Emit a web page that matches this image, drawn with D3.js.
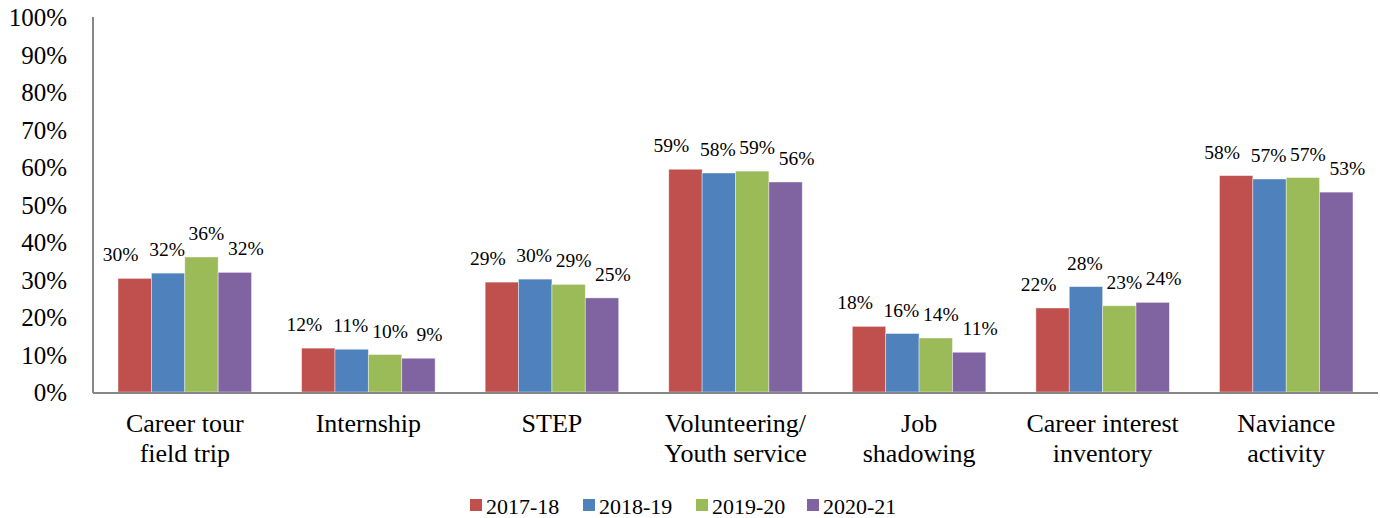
<!DOCTYPE html>
<html>
<head>
<meta charset="utf-8">
<script src="https://cdn.jsdelivr.net/npm/d3@7"></script>
</head>
<body style="margin:0">
<script>
// data
var categories = [["Career tour", "field trip"], ["Internship"], ["STEP"], ["Volunteering/", "Youth service"],
                  ["Job", "shadowing"], ["Career interest", "inventory"], ["Naviance", "activity"]];
var seriesNames = ["2017-18", "2018-19", "2019-20", "2020-21"];
var seriesColors = ["#C0504D", "#4F81BD", "#9BBB59", "#8064A2"];
var v2017 = [30.3, 11.7, 29.3, 59.4, 17.5, 22.4, 57.7];
var v2018 = [31.7, 11.4, 30.1, 58.4, 15.6, 28.1, 56.8];
var v2019 = [36.0, 10.0, 28.7, 58.9, 14.4, 23.0, 57.2];
var v2020 = [31.9, 9.0, 25.1, 56.0, 10.6, 23.9, 53.3];
var yTicks = [0, 10, 20, 30, 40, 50, 60, 70, 80, 90, 100];

var allValues = [v2017, v2018, v2019, v2020];
var FONT = "'Liberation Serif'";

var W = 1380, H = 518;
var margin = {top: 17, left: 93, right: 2, bottom: 126};
var width = W - margin.left - margin.right,
    height = H - margin.top - margin.bottom;

var root = d3.select("body").append("svg")
    .attr("width", W).attr("height", H);
var svg = root.append("g")
    .attr("transform", "translate(" + margin.left + "," + margin.top + ")");

var catIdx = d3.range(categories.length);
var x0 = d3.scaleBand().domain(catIdx).range([0, width]).padding(0);
var x1 = d3.scaleBand().domain(d3.range(seriesNames.length))
    .range([0, x0.bandwidth()]).paddingInner(0).paddingOuter(0.75);
var y = d3.scaleLinear().domain([0, 100]).range([height, 0]);

// y axis labels
var yAxis = svg.append("g")
    .call(d3.axisLeft(y).tickValues(yTicks).tickSize(0).tickPadding(26)
          .tickFormat(function(d) { return d + "%"; }));
yAxis.attr("font-family", null).attr("font-size", null);
yAxis.select(".domain").remove();
yAxis.selectAll("text")
    .style("font-family", FONT).style("font-size", "25px").style("fill", "#000")
    .attr("dy", "0.34em");

// bars
var groups = svg.selectAll(".grp")
    .data(catIdx)
    .enter().append("g")
    .attr("class", "grp")
    .attr("transform", function(d) { return "translate(" + x0(d) + ",0)"; });

// labels are nudged apart like in the original so they don't collide
var labelShift = [-14, -1, 5, 11];

seriesNames.forEach(function(s, si) {
    groups.append("rect")
        .attr("x", x1(si))
        .attr("y", function(c) { return y(allValues[si][c]); })
        .attr("width", x1.bandwidth())
        .attr("height", function(c) { return height - y(allValues[si][c]); })
        .style("fill", seriesColors[si])
        .style("stroke", "#fff")
        .style("stroke-opacity", 0.5)
        .style("stroke-width", 0.8);

    groups.append("text")
        .attr("x", x1(si) + x1.bandwidth() / 2 + labelShift[si])
        .attr("y", function(c) { return y(allValues[si][c]) - 17; })
        .attr("text-anchor", "middle")
        .style("font-family", FONT)
        .style("font-size", "19.5px")
        .text(function(c) { return Math.round(allValues[si][c]) + "%"; });
});

// axis lines
svg.append("line")
    .attr("x1", 0).attr("x2", 0).attr("y1", 0).attr("y2", height + 1)
    .style("stroke", "#878787").style("stroke-width", 2);
svg.append("line")
    .attr("x1", 0).attr("x2", width).attr("y1", height + 1).attr("y2", height + 1)
    .style("stroke", "#878787").style("stroke-width", 2);

// category labels
var catText = svg.selectAll(".cat")
    .data(catIdx)
    .enter().append("text")
    .attr("class", "cat")
    .attr("text-anchor", "middle")
    .attr("transform", function(d) { return "translate(" + (x0(d) + x0.bandwidth() / 2) + "," + (height + 40) + ")"; })
    .style("font-family", FONT)
    .style("font-size", "26px");
catText.each(function(d) {
    var t = d3.select(this);
    categories[d].forEach(function(line, li) {
        t.append("tspan").attr("x", 0).attr("y", li * 30).text(line);
    });
});

// legend
var legendX = [470 - margin.left, 583 - margin.left, 696 - margin.left, 807 - margin.left];
var legend = svg.selectAll(".leg")
    .data(seriesNames)
    .enter().append("g")
    .attr("class", "leg")
    .attr("transform", function(d, i) { return "translate(" + legendX[i] + "," + (499 - margin.top) + ")"; });
legend.append("rect")
    .attr("width", 12).attr("height", 12)
    .style("fill", function(d, i) { return seriesColors[i]; });
legend.append("text")
    .attr("x", 16).attr("y", 15)
    .style("font-family", FONT)
    .style("font-size", "22px")
    .text(function(d) { return d; });
</script>
</body>
</html>
